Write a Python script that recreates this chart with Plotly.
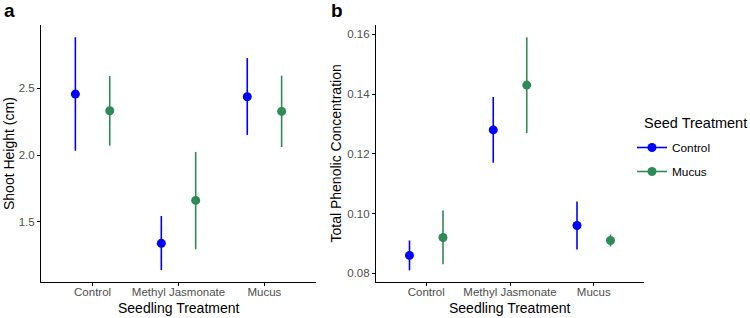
import plotly.graph_objects as go

categories = ["Control", "Methyl Jasmonate", "Mucus"]
seed_groups = ["Control", "Mucus"]

# Panel a: Shoot height (cm)
height_mean = {"Control": [2.457, 1.338, 2.437], "Mucus": [2.332, 1.660, 2.327]}
height_low = {"Control": [2.032, 1.138, 2.150], "Mucus": [2.070, 1.293, 2.060]}
height_high = {"Control": [2.883, 1.543, 2.727], "Mucus": [2.592, 2.023, 2.595]}

# Panel b: Total phenolic concentration
phen_mean = {"Control": [0.086, 0.128, 0.096], "Mucus": [0.092, 0.143, 0.091]}
phen_low = {"Control": [0.081, 0.117, 0.088], "Mucus": [0.083, 0.127, 0.089]}
phen_high = {"Control": [0.091, 0.139, 0.104], "Mucus": [0.101, 0.159, 0.093]}

height_ticks = [1.5, 2.0, 2.5]
phen_ticks = [0.08, 0.10, 0.12, 0.14, 0.16]

colors = {"Control": "#0000FF", "Mucus": "#2E8B57"}
offsets = {"Control": -0.2, "Mucus": 0.2}
FONT = "Liberation Sans, Arial, Helvetica, sans-serif"

W, H = 750, 318
def px_x(p):
    return p / W
def px_y(p):
    return (H - p) / H

fig = go.Figure()

def add_panel(mean, low, high, xa, ya):
    for g in seed_groups:
        xs = [i + offsets[g] for i in range(len(categories))]
        fig.add_trace(go.Scatter(
            x=xs, y=mean[g], mode="markers",
            marker=dict(color=colors[g], size=9),
            error_y=dict(type="data", symmetric=False,
                         array=[h - m for h, m in zip(high[g], mean[g])],
                         arrayminus=[m - l for m, l in zip(mean[g], low[g])],
                         color=colors[g], thickness=1.6, width=0),
            xaxis=xa, yaxis=ya, showlegend=False, name=g,
        ))

add_panel(height_mean, height_low, height_high, "x", "y")
add_panel(phen_mean, phen_low, phen_high, "x2", "y2")

# legend entries (point + line key)
for g in seed_groups:
    fig.add_trace(go.Scatter(
        x=[None], y=[None], mode="lines+markers", name=g, legendgroup=g,
        marker=dict(color=colors[g], size=9),
        line=dict(color=colors[g], width=1.6),
        xaxis="x2", yaxis="y2", showlegend=True,
    ))

axis_common = dict(
    showgrid=False, zeroline=False, showline=True, linecolor="black", linewidth=1.1,
    ticks="outside", ticklen=3, tickcolor="black", tickwidth=1.1,
    tickfont=dict(family=FONT, size=11.5, color="#4D4D4D"),
)

ydom = [px_y(282), px_y(25)]
fig.update_layout(
    width=W, height=H,
    margin=dict(l=0, r=0, t=0, b=0),
    paper_bgcolor="white", plot_bgcolor="white",
    font=dict(family=FONT),
    xaxis=dict(domain=[px_x(41), px_x(316)], range=[-0.6, 2.6],
               tickvals=[0, 1, 2], ticktext=categories, anchor="y",
               ticklabelstandoff=-4, **axis_common),
    yaxis=dict(domain=ydom, range=[1.048, 2.975], tickvals=height_ticks,
               ticktext=[f"{v:.1f}" for v in height_ticks], anchor="x", **axis_common),
    xaxis2=dict(domain=[px_x(376), px_x(644)], range=[-0.6, 2.6],
                tickvals=[0, 1, 2], ticktext=categories, anchor="y2",
                ticklabelstandoff=-4, **axis_common),
    yaxis2=dict(domain=ydom, range=[0.0771, 0.1631], tickvals=phen_ticks,
                ticktext=[f"{v:.2f}" for v in phen_ticks], anchor="x2", **axis_common),
    legend=dict(
        font=dict(family=FONT, size=11.8, color="black"),
        x=px_x(632), xanchor="left", y=px_y(133), yanchor="top",
        bgcolor="rgba(0,0,0,0)", tracegroupgap=5,
    ),
)

annotations = [
    dict(text="<b>a</b>", x=px_x(2), y=px_y(11), xanchor="left", yanchor="middle",
         font=dict(family=FONT, size=19, color="black")),
    dict(text="<b>b</b>", x=px_x(329), y=px_y(11), xanchor="left", yanchor="middle",
         font=dict(family=FONT, size=19, color="black")),
    dict(text="Seedling Treatment", x=px_x(178.5), y=px_y(308), xanchor="center", yanchor="middle",
         font=dict(family=FONT, size=14, color="black")),
    dict(text="Seedling Treatment", x=px_x(510), y=px_y(308), xanchor="center", yanchor="middle",
         font=dict(family=FONT, size=14, color="black")),
    dict(text="Shoot Height (cm)", x=px_x(9.5), y=px_y(153.5), xanchor="center", yanchor="middle",
         textangle=-90, font=dict(family=FONT, size=14, color="black")),
    dict(text="Total Phenolic Concentration", x=px_x(336), y=px_y(153.5), xanchor="center",
         yanchor="middle", textangle=-90, font=dict(family=FONT, size=14, color="black")),
    dict(text="Seed Treatment", x=px_x(642), y=px_y(123), xanchor="left", yanchor="middle",
         font=dict(family=FONT, size=14.5, color="black")),
]
for a in annotations:
    a.update(xref="paper", yref="paper", showarrow=False)
fig.update_layout(annotations=annotations)

fig.write_html("out.html")
